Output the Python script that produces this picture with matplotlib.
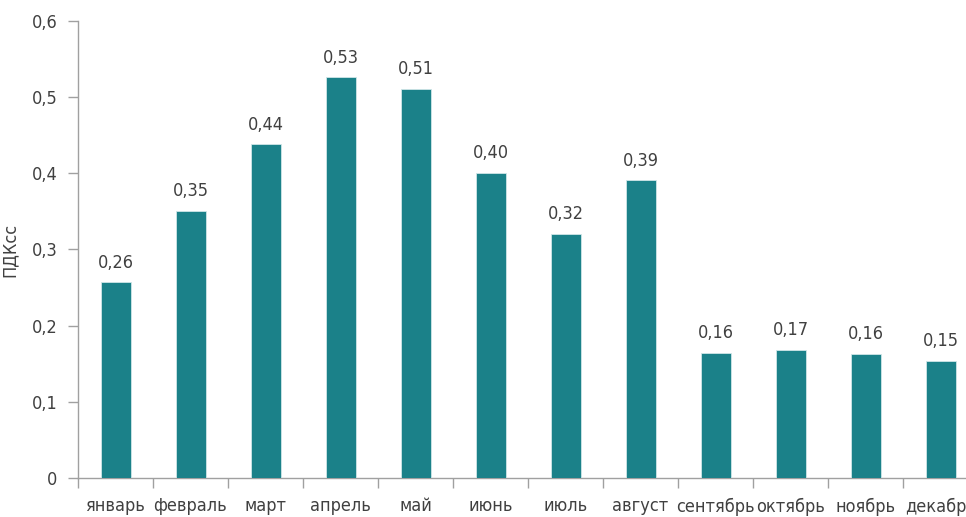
import matplotlib
matplotlib.use("Agg")
import matplotlib.pyplot as plt
from matplotlib import font_manager
from matplotlib.ft2font import FT2Font
import numpy as np

months = ["январь", "февраль", "март", "апрель", "май", "июнь", "июль",
          "август", "сентябрь", "октябрь", "ноябрь", "декабрь"]
values = [0.257, 0.351, 0.438, 0.526, 0.511, 0.401, 0.321, 0.391, 0.164, 0.168, 0.163, 0.154]
yticks = [0, 0.1, 0.2, 0.3, 0.4, 0.5, 0.6]
ylabel = "ПДКсс"


def has_cyr(path):
    try:
        cm = FT2Font(path).get_charmap()
        return all(ord(c) in cm for c in "яПДК,0")
    except Exception:
        return False


cands = []
for f in font_manager.fontManager.ttflist:
    cond = ("Condensed" in f.name or "Narrow" in f.name or
            str(f.stretch) in ("condensed", "semi-condensed", "extra-condensed", "ultra-condensed"))
    if cond and f.style == "normal" and has_cyr(f.fname):
        w = f.weight if isinstance(f.weight, int) else 400
        cands.append((abs(w - 350), f.fname, f.name))
cands.sort()
if cands:
    fp = font_manager.FontProperties(fname=cands[0][1])
    fs = 13
else:
    fp = font_manager.FontProperties(family="Roboto", weight="light")
    fs = 12

txtcol = "#404040"
axcol = "#a0a0a0"

fig = plt.figure(figsize=(9.66, 5.17), dpi=100)
ax = fig.add_axes([78/966, 1 - 478/517, 900/966, 457/517])
x = np.arange(len(months))
ax.bar(x, values, width=0.4, color="#1b8189", edgecolor="#d0e6e8", linewidth=0.6, zorder=3)
for xi, v in zip(x, values):
    ax.text(xi, v + 0.014, f"{v:.2f}".replace(".", ","), ha="center", va="bottom",
            fontproperties=fp, fontsize=fs, color=txtcol)
ax.set_xlim(-0.5, len(months) - 0.5)
ax.set_ylim(0, 0.6)
ax.set_yticks(yticks)
ax.set_yticklabels([("0" if t == 0 else f"{t:.1f}".replace(".", ",")) for t in yticks],
                   fontproperties=fp, fontsize=fs, color=txtcol)
ax.set_xticks(x)
ax.set_xticklabels(months, fontproperties=fp, fontsize=fs, color=txtcol)
ax.set_xticks(np.arange(len(months) + 1) - 0.5, minor=True)
ax.tick_params(axis="x", which="major", length=0, pad=14)
ax.tick_params(axis="x", which="minor", length=7, color=axcol, width=1)
ax.tick_params(axis="y", length=7, color=axcol, width=1, pad=8)
for s in ["top", "right"]:
    ax.spines[s].set_visible(False)
for s in ["left", "bottom"]:
    ax.spines[s].set_color(axcol)
    ax.spines[s].set_linewidth(1)
ax.set_ylabel(ylabel, fontproperties=fp, fontsize=fs, color=txtcol)
ax.yaxis.set_label_coords(-0.066, 0.5)
fig.savefig("out.png", dpi=100)
